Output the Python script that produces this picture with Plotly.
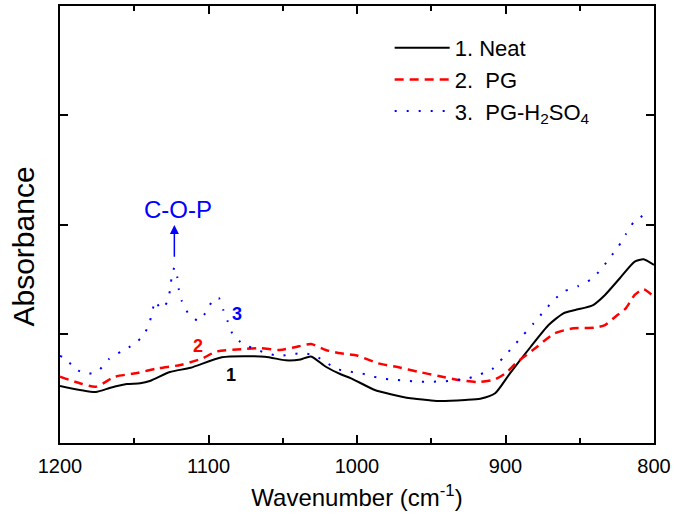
import plotly.graph_objects as go

# Wavenumber (cm^-1) and absorbance (arbitrary units)
wn_neat = [1200, 1176, 1166, 1155, 1146, 1139, 1126, 1112, 1091, 1062, 1048, 1038, 1031,
           1021, 1011, 1004, 988, 978, 964, 951, 944, 927, 917, 907, 897, 883, 871, 861,
           853, 841, 833, 823, 813, 807, 800]
abs_neat = [0.522, 0.467, 0.506, 0.540, 0.546, 0.570, 0.650, 0.689, 0.784, 0.790, 0.757,
            0.765, 0.792, 0.698, 0.629, 0.592, 0.485, 0.449, 0.409, 0.391, 0.384, 0.394,
            0.405, 0.455, 0.638, 0.881, 1.080, 1.187, 1.217, 1.263, 1.355, 1.508, 1.660,
            1.681, 1.629]

wn_pg = [1200, 1190, 1176, 1163, 1149, 1134, 1119, 1104, 1095, 1078, 1065, 1052, 1042,
         1031, 1021, 1011, 1000, 986, 972, 959, 945, 932, 918, 907, 900, 893, 880, 867,
         854, 840, 833, 826, 819, 813, 807, 800]
abs_pg = [0.607, 0.561, 0.515, 0.607, 0.638, 0.684, 0.714, 0.775, 0.836, 0.858, 0.867,
          0.851, 0.876, 0.906, 0.851, 0.821, 0.801, 0.730, 0.693, 0.653, 0.613, 0.577,
          0.558, 0.583, 0.638, 0.730, 0.867, 1.004, 1.050, 1.055, 1.080, 1.156, 1.233,
          1.355, 1.407, 1.339]

wn_pgs = [1200, 1196, 1190, 1181, 1174, 1167, 1159, 1151, 1144, 1140, 1138, 1136, 1132,
          1128, 1126, 1125, 1123, 1121, 1120, 1118, 1114, 1107, 1101, 1097, 1093, 1090,
          1087, 1084, 1077, 1068, 1061, 1052, 1045, 1037, 1029, 1021, 1013, 1005, 997,
          989, 981, 973, 965, 957, 949, 941, 933, 925, 917, 909, 902, 895, 888, 881, 874,
          867, 860, 851, 843, 836, 830, 824, 819, 814, 807]
abs_pgs = [0.796, 0.775, 0.677, 0.632, 0.662, 0.769, 0.836, 0.897, 0.979, 1.087, 1.193,
           1.300, 1.227, 1.284, 1.391, 1.499, 1.608, 1.517, 1.407, 1.300, 1.193, 1.117,
           1.208, 1.315, 1.327, 1.217, 1.110, 1.004, 0.906, 0.858, 0.821, 0.796, 0.812,
           0.821, 0.806, 0.739, 0.675, 0.653, 0.638, 0.607, 0.586, 0.577, 0.568, 0.561,
           0.561, 0.565, 0.577, 0.592, 0.629, 0.675, 0.775, 0.881, 0.989, 1.096, 1.208,
           1.315, 1.391, 1.437, 1.492, 1.583, 1.691, 1.797, 1.910, 2.016, 2.087]

x_ticks = [1200, 1100, 1000, 900, 800]
x_tick_labels = ["1200", "1100", "1000", "900", "800"]

FONT = "Arial, 'Liberation Sans', sans-serif"

fig = go.Figure()
fig.add_trace(go.Scatter(x=wn_neat, y=abs_neat, mode="lines", name="1. Neat",
                         line=dict(color="black", width=2, shape="spline", smoothing=0.6)))
fig.add_trace(go.Scatter(x=wn_pg, y=abs_pg, mode="lines", name="2.  PG",
                         line=dict(color="red", width=2.5, dash="9px,6px", shape="spline", smoothing=0.6)))
fig.add_trace(go.Scatter(x=wn_pgs, y=abs_pgs, mode="lines", name="3.  PG-H<sub>2</sub>SO<sub>4</sub>",
                         line=dict(color="blue", width=2, dash="2px,10px", shape="spline", smoothing=0.4)))

axis_common = dict(showline=True, linecolor="black", linewidth=2, mirror="ticks",
                   ticks="inside", tickcolor="black", tickwidth=1.5, ticklen=8,
                   showgrid=False, zeroline=False, automargin=False)

fig.update_xaxes(range=[1200, 800], tickvals=x_ticks, ticktext=x_tick_labels,
                 tickfont=dict(size=20, color="black", family=FONT),
                 ticklabelstandoff=4,
                 title=dict(text="Wavenumber (cm<sup>-1</sup>)", font=dict(size=24, color="black", family=FONT),
                            standoff=13),
                 minor=dict(ticks="inside", tickvals=[1150, 1050, 950, 850], ticklen=5,
                            tickcolor="black", tickwidth=1.5),
                 **axis_common)
fig.update_yaxes(range=[0, 4], tickvals=[1, 2, 3], showticklabels=False, **axis_common)

# y-axis title placed as rotated text (centred slightly below the plot middle, as in the original)
fig.add_annotation(xref="paper", yref="paper", x=-0.062, y=0.45, text="Absorbance",
                   textangle=-90, showarrow=False, xanchor="center", yanchor="middle",
                   font=dict(size=30, color="black", family=FONT))

# curve number labels
fig.add_annotation(x=1085, y=0.62, text="<b>1</b>", showarrow=False,
                   font=dict(size=18, color="black", family=FONT))
fig.add_annotation(x=1107, y=0.89, text="<b>2</b>", showarrow=False,
                   font=dict(size=18, color="red", family=FONT))
fig.add_annotation(x=1081, y=1.18, text="<b>3</b>", showarrow=False,
                   font=dict(size=18, color="blue", family=FONT))

# C-O-P band annotation (arrow pointing up toward the label)
fig.add_annotation(x=1123, y=1.995, ax=1123, ay=1.69, xref="x", yref="y", axref="x", ayref="y",
                   text="", showarrow=True, arrowhead=2, arrowsize=1.2, arrowwidth=1.5,
                   arrowcolor="blue", standoff=0)
fig.add_annotation(x=1120.5, y=2.14, text="C-O-P", showarrow=False, yanchor="middle",
                   font=dict(size=24, color="blue", family=FONT))

fig.update_layout(
    width=677, height=520,
    margin=dict(l=60, r=23, t=6, b=77),
    paper_bgcolor="white", plot_bgcolor="white",
    font=dict(family=FONT, color="black"),
    legend=dict(x=0.555, y=0.952, xanchor="left", yanchor="top",
                font=dict(size=22, color="black", family=FONT),
                bgcolor="rgba(0,0,0,0)", tracegroupgap=0, itemwidth=55),
    showlegend=True,
)

fig.write_html("out.html", config={"displayModeBar": False},
               post_script="document.body.style.margin='0px';")
